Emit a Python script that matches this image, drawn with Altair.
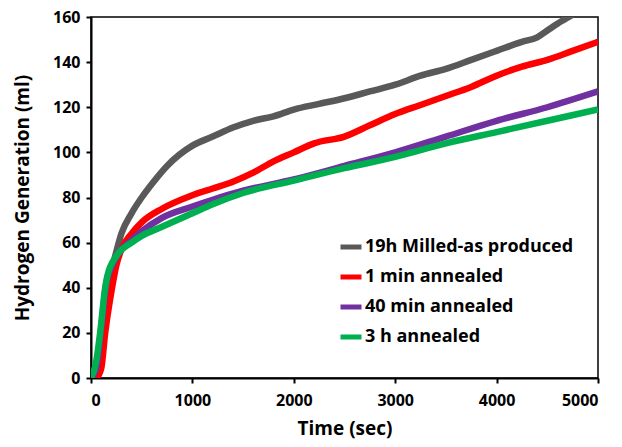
import altair as alt
import pandas as pd

series_names = ["19h Milled-as produced", "1 min annealed", "40 min annealed", "3 h annealed"]
series_colors = ["#595959", "#ff0000", "#7030a0", "#00b050"]

gray_t = [0, 50, 100, 150, 200, 250, 300, 400, 500, 600, 750, 1000, 1200, 1400, 1600, 1800, 2000, 2250, 2500, 2750, 3000, 3250, 3500, 3750, 4000, 4250, 4400, 4500, 4600, 4750, 5000]
gray_v = [0, 2, 15, 35, 47, 56, 64, 73, 80, 86, 94, 103, 107, 111, 114, 116, 119, 121.5, 124, 127, 130, 134, 137, 141, 145, 149, 151, 154, 157, 161, 168]

red_t = [0, 50, 100, 140, 200, 250, 300, 400, 500, 700, 1000, 1200, 1400, 1600, 1800, 2000, 2200, 2500, 2750, 3000, 3250, 3500, 3750, 4000, 4250, 4500, 4750, 5000]
red_v = [0, 0, 4, 20, 38, 50, 57, 64, 69, 75, 81, 84, 87, 91, 96, 100, 104, 107, 112, 117, 121, 125, 129, 134, 138, 141, 145, 149]

purple_t = [0, 50, 100, 150, 200, 300, 400, 500, 700, 1000, 1200, 1500, 2000, 2500, 3000, 3500, 4000, 4500, 5000]
purple_v = [0, 4, 22, 42, 49, 57, 61, 65, 71, 76, 79, 83, 88, 94, 100, 107, 114, 120, 127]

green_t = [0, 50, 90, 140, 160, 250, 400, 500, 700, 1000, 1200, 1500, 2000, 2500, 3000, 3500, 4000, 4500, 5000]
green_v = [0, 7, 20, 40, 45, 54, 60, 63, 67, 73, 77, 82, 87.5, 93, 98, 104, 109, 114, 119]

rows = []
for name, ts, vs in zip(series_names, [gray_t, red_t, purple_t, green_t], [gray_v, red_v, purple_v, green_v]):
    for i, (t, v) in enumerate(zip(ts, vs)):
        rows.append({"series": name, "t": t, "v": v, "i": i})
df = pd.DataFrame(rows)

FONT = "Open Sans"

chart = alt.Chart(df).mark_line(strokeWidth=6.5, clip=True, interpolate="monotone").encode(
    x=alt.X("t:Q", title="Time (sec)",
            scale=alt.Scale(domain=[0, 5000], nice=False),
            axis=alt.Axis(values=[0, 1000, 2000, 3000, 4000, 5000], grid=False, tickSize=5,
                          labelPadding=9, titlePadding=11, format="d")),
    y=alt.Y("v:Q", title="Hydrogen Generation (ml)",
            scale=alt.Scale(domain=[0, 160], nice=False),
            axis=alt.Axis(values=[0, 20, 40, 60, 80, 100, 120, 140, 160], grid=False, tickSize=5,
                          labelPadding=6, titlePadding=20)),
    color=alt.Color("series:N", scale=alt.Scale(domain=series_names, range=series_colors),
                    legend=alt.Legend(title=None, orient="none", legendX=247, legendY=217,
                                      symbolType="stroke", symbolStrokeWidth=5, symbolSize=441,
                                      labelFont=FONT, labelFontSize=18, labelFontWeight="bold",
                                      labelColor="#000000", rowPadding=7, labelOffset=1,
                                      labelLimit=400)),
    order="i:Q",
).properties(
    width=507, height=361,
    autosize=alt.AutoSizeParams(type="none"),
    padding={"left": 83, "top": 9, "right": 16, "bottom": 68},
).configure_view(
    stroke="#000000", strokeWidth=1.5
).configure_axis(
    domainColor="#000000", domainWidth=2, tickColor="#000000", tickWidth=2,
    labelFont=FONT, labelFontSize=16, labelFontWeight="bold", labelColor="#000000",
    titleFont=FONT, titleFontSize=19, titleFontWeight="bold", titleColor="#000000",
)

chart.save("out.html", embed_options={"renderer": "svg", "actions": False})
